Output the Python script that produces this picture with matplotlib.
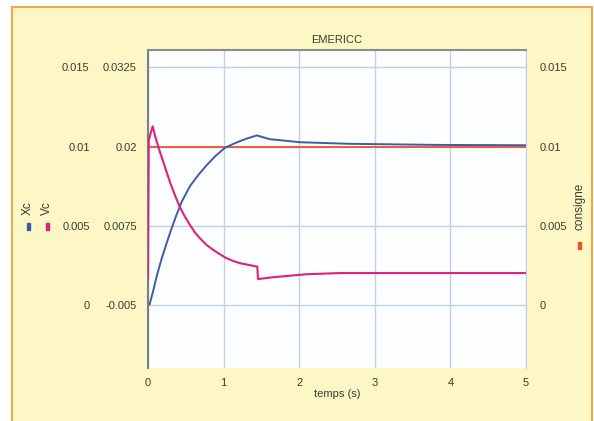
import numpy as np
import matplotlib
matplotlib.use("Agg")
import matplotlib.pyplot as plt
from matplotlib.patches import Rectangle

# valeurs
t_xc = [0, 0.02, 0.07, 0.115, 0.18, 0.247, 0.31, 0.379, 0.445, 0.556, 0.665, 0.776, 0.886,
        1.018, 1.13, 1.217, 1.305, 1.44, 1.614, 1.66, 2.01, 2.67, 3.86, 5]
xc = [0, 0, 0.0009, 0.0018, 0.0029, 0.0039, 0.0048, 0.0057, 0.0065, 0.0075, 0.0082,
      0.00882, 0.00937, 0.00992, 0.01017, 0.01034, 0.0105, 0.0107, 0.01046, 0.01044,
      0.01027, 0.01017, 0.0101, 0.01008]

t_vc = [0, 0.01, 0.062, 0.093, 0.159, 0.225, 0.29, 0.357, 0.42, 0.49, 0.556, 0.62, 0.688,
        0.776, 0.864, 0.952, 1.04, 1.13, 1.217, 1.33, 1.446, 1.455, 1.66, 2.1, 2.54, 5]
vc = [-0.0008, 0.021, 0.0232, 0.0217, 0.0191, 0.01675, 0.01439, 0.0123, 0.01046, 0.00888,
      0.00758, 0.00643, 0.00549, 0.00443, 0.00365, 0.00297, 0.00234, 0.0019, 0.00156,
      0.00129, 0.00102, -0.00095, -0.00065, -0.00018, 0.0, 0.0]

t_cons = [0.02, 5]
consigne = [0.01, 0.01]

xc_ticks = [0, 0.005, 0.01, 0.015]
xc_labels = ["0", "0.005", "0.01", "0.015"]
vc_ticks = [-0.005, 0.0075, 0.02, 0.0325]
vc_labels = ["-0.005", "0.0075", "0.02", "0.0325"]
t_ticks = [0, 1, 2, 3, 4, 5]

plt.rcParams["font.family"] = ["Liberation Sans", "DejaVu Sans"]
txt = "#3c3c30"
bg = "#fdf7c6"

fig = plt.figure(figsize=(5.94, 4.21), dpi=100)
fig.patch.set_facecolor("white")
fig.patches.append(Rectangle((12 / 594, -0.05), 580 / 594, 1 - 7 / 421 + 0.05,
                             transform=fig.transFigure, facecolor=bg,
                             edgecolor="#f5a544", lw=1.4, zorder=-10))

pos = [148 / 594, 1 - 368 / 421, (526 - 148) / 594, (368 - 50) / 421]
ax = fig.add_axes(pos, zorder=1)
ax.set_facecolor("#fdfeff")
ax.plot(t_cons, consigne, color="#f0502c", lw=1.3)
ax.plot(t_xc, xc, color="#3b5ca6", lw=1.4)
ax.set_xlim(0, 5)
ax.set_ylim(-0.004, 0.0161)
ax.set_xticks(t_ticks)
ax.set_yticks(xc_ticks)
ax.set_yticklabels(xc_labels)
ax.grid(True, color="#bcd2ea", lw=1)
ax.tick_params(length=0, labelsize=8, labelcolor=txt)
ax.tick_params(axis="y", pad=42)
ax.tick_params(axis="x", pad=7)
ax.spines["bottom"].set_visible(False)
ax.spines["right"].set_color("#bcd2ea")
ax.spines["top"].set_color("#8c8c8c")
ax.spines["top"].set_linewidth(1.5)
ax.spines["left"].set_color("#7a7f86")
ax.spines["left"].set_linewidth(1.5)
ax.set_title("EMERICC", fontsize=8, color=txt, pad=5)
ax.set_xlabel("temps (s)", fontsize=8, color=txt, labelpad=1)

ax_v = fig.add_axes(pos, zorder=2)
ax_v.patch.set_visible(False)
ax_v.plot(t_vc, vc, color="#e0207c", lw=1.5)
ax_v.set_xlim(0, 5)
ax_v.set_ylim(-0.015, 0.03525)
ax_v.set_yticks(vc_ticks)
ax_v.set_yticklabels(vc_labels)
ax_v.set_xticks([])
ax_v.tick_params(length=0, labelsize=8, labelcolor=txt, pad=8)
for s in ax_v.spines.values():
    s.set_visible(False)

ax_r = fig.add_axes(pos, zorder=3)
ax_r.patch.set_visible(False)
ax_r.set_ylim(-0.004, 0.0161)
ax_r.yaxis.tick_right()
ax_r.set_yticks(xc_ticks)
ax_r.set_yticklabels(xc_labels)
ax_r.set_xticks([])
ax_r.tick_params(length=0, labelsize=8, labelcolor=txt, pad=10)
for s in ax_r.spines.values():
    s.set_visible(False)

# étiquettes des séries
def label(x, y_txt, y_mark, name, color):
    fig.text(x / 594, 1 - y_txt / 421, name, rotation=90, ha="center", va="center",
             fontsize=8.5, color=txt)
    fig.patches.append(Rectangle(((x - 1.5) / 594, 1 - (y_mark + 4) / 421), 3 / 594, 7 / 421,
                                 transform=fig.transFigure, color=color))

label(28, 208, 226, "Xc", "#3b5ca6")
label(47, 208, 226, "Vc", "#e0207c")
label(579, 206, 245, "consigne", "#f0502c")

fig.savefig("out.png", dpi=100)
